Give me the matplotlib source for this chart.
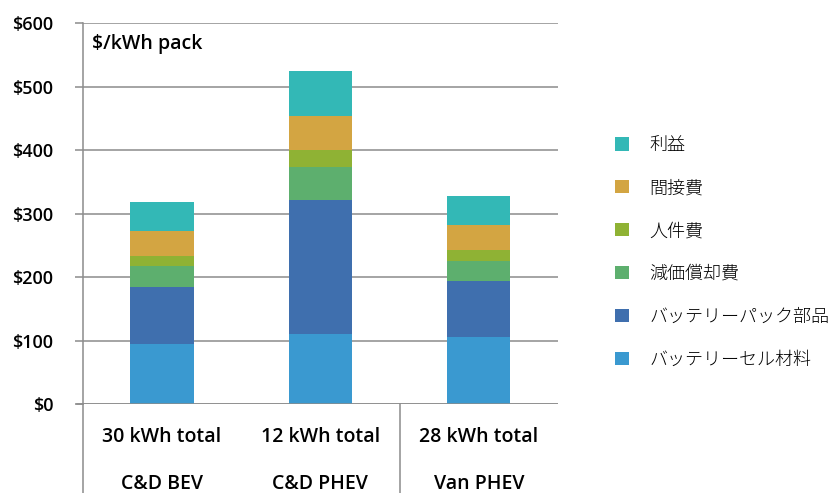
from matplotlib import pyplot as plt
from matplotlib.lines import Line2D
from matplotlib.patches import Patch
import numpy as np

plt.rcParams['font.family'] = ['Open Sans', 'DejaVu Sans']

# 車種ごとの電池パック原価構成 ($/kWh)
vehicles = ['C&D BEV', 'C&D PHEV', 'Van PHEV']
capacities = ['30 kWh total', '12 kWh total', '28 kWh total']
segments = ['バッテリーセル材料', 'バッテリーパック部品', '減価償却費',
            '人件費', '間接費', '利益']
cell_cost = [95, 110, 106]
pack_parts = [90, 212, 88]
depreciation = [33, 52, 31]
labor = [16, 26, 18]
overhead = [39, 53, 39]
profit = [46, 72, 45]
yticks = [0, 100, 200, 300, 400, 500, 600]

values = [cell_cost, pack_parts, depreciation, labor, overhead, profit]
colors = ['#3a99d0', '#3f6fae', '#5daf6e', '#8fb234', '#d3a542', '#33b8b6']

W, H = 838, 493
fig = plt.figure(figsize=(W / 100, H / 100), dpi=100)
ax = fig.add_axes([82.7 / W, 1 - 404.3 / H, (558 - 82.7) / W, (404.3 - 23) / H])

x = np.arange(len(vehicles))
bottom = np.zeros(len(vehicles))
for vals, c in zip(values, colors):
    ax.bar(x, vals, width=0.4, bottom=bottom, color=c, zorder=3)
    bottom += vals

ax.set_xlim(-0.5, 2.5)
ax.set_ylim(0, 600)
ax.set_yticks(yticks)
ax.set_yticklabels(['$%d' % v for v in yticks], fontsize=13, fontweight='semibold')
ax.yaxis.grid(True, color='#8c8c8c', linewidth=1.1, zorder=0)
ax.tick_params(axis='y', length=6, width=1.1, color='#8c8c8c', pad=15)
ax.set_xticks([])
for s in ['top', 'right', 'bottom']:
    ax.spines[s].set_visible(False)
ax.spines['left'].set_color('#8c8c8c')
ax.spines['left'].set_linewidth(1.1)
ax.axhline(0, color='#8c8c8c', linewidth=1.1, zorder=4)

ax.text(0.02, 0.945, '$/kWh pack', transform=ax.transAxes, fontsize=14,
        fontweight='semibold', va='center', ha='left')

# 2段のカテゴリラベル
trans = ax.get_xaxis_transform()
for xi, cap, veh in zip(x, capacities, vehicles):
    ax.text(xi, -0.085, cap, transform=trans, ha='center', va='center',
            fontsize=14, fontweight='semibold')
    ax.text(xi, -0.21, veh, transform=trans, ha='center', va='center',
            fontsize=14, fontweight='semibold')

# 軸線の延長と区切り線
fig.add_artist(Line2D([82.7 / W, 82.7 / W], [0, 1 - 404.3 / H],
                      color='#8c8c8c', linewidth=1.1))
fig.add_artist(Line2D([400 / W, 400 / W], [0, 1 - 404.3 / H],
                      color='#8c8c8c', linewidth=1.1))
fig.add_artist(Line2D([77 / W, 82.7 / W], [1 - 404.3 / H, 1 - 404.3 / H],
                      color='#8c8c8c', linewidth=1.1))

handles = [Patch(facecolor=c, edgecolor='none') for c in colors][::-1]
fig.legend(handles, segments[::-1], loc='upper left',
           bbox_to_anchor=(599 / W, 1 - 120 / H), frameon=False,
           prop={'family': ['Noto Sans CJK JP', 'DejaVu Sans'], 'size': 13,
                 'weight': 'light'},
           handlelength=0.75, handleheight=0.75, handletextpad=1.15,
           labelspacing=1.38)

fig.savefig('out.png', dpi=100)
